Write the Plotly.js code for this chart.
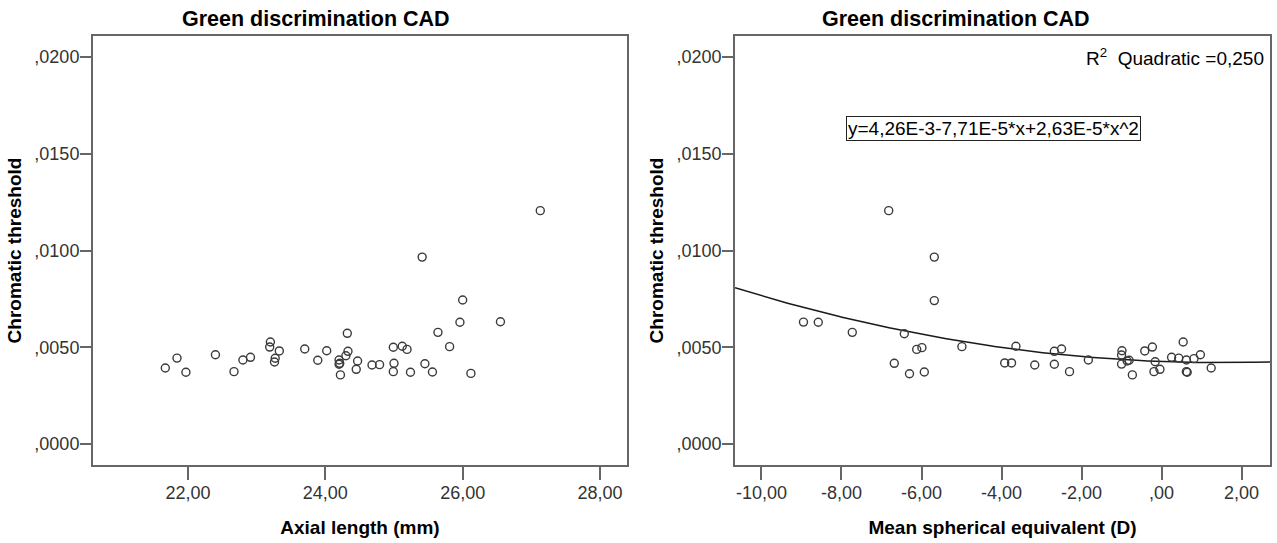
<!DOCTYPE html>
<html>
<head>
<meta charset="utf-8">
<script src="https://cdn.plot.ly/plotly-3.0.1.min.js"></script>
<style>html,body{margin:0;padding:0;background:#fff;}#chart{width:1277px;height:543px;}</style>
</head>
<body>
<div id="chart"></div>
<script>
// Left panel: Axial length (mm) vs chromatic threshold
const axialLength = [21.67,21.84,21.97,22.40,22.67,22.80,22.91,23.20,23.19,23.33,23.27,23.26,23.70,23.89,24.02,24.32,24.33,24.30,24.20,24.21,24.20,24.22,24.47,24.45,24.68,24.79,24.99,25.12,25.19,25.00,24.99,25.24,25.45,25.56,25.64,25.81,25.96,26.12,26.55,26.00,25.41,27.13];
const thresholdAxial = [0.00393,0.00444,0.00371,0.00461,0.00374,0.00434,0.00448,0.00527,0.00501,0.00481,0.00443,0.00424,0.00491,0.00433,0.00482,0.00572,0.00479,0.00456,0.00434,0.00417,0.00412,0.00357,0.00429,0.00386,0.00408,0.00410,0.00500,0.00505,0.00489,0.00417,0.00374,0.00371,0.00415,0.00372,0.00577,0.00503,0.00629,0.00365,0.00632,0.00744,0.00966,0.01206];

// Right panel: Mean spherical equivalent (D) vs chromatic threshold
const sphericalEquivalent = [-6.82,-5.68,-5.68,-8.95,-8.58,-7.73,-6.43,-6.68,-6.30,-6.12,-5.99,-5.93,-4.99,-3.92,-3.75,-3.64,-3.17,-2.68,-2.50,-2.68,-2.30,-1.83,-0.99,-1.00,-1.00,-0.86,-0.81,-0.73,-0.42,-0.23,-0.16,-0.19,-0.04,0.25,0.43,0.54,0.62,0.62,0.64,0.81,0.97,1.24];
const thresholdSpherical = [0.01206,0.00966,0.00741,0.00630,0.00629,0.00577,0.00570,0.00417,0.00363,0.00489,0.00498,0.00372,0.00503,0.00419,0.00419,0.00505,0.00408,0.00479,0.00491,0.00412,0.00374,0.00434,0.00482,0.00460,0.00413,0.00429,0.00433,0.00357,0.00481,0.00501,0.00425,0.00374,0.00386,0.00448,0.00444,0.00527,0.00434,0.00374,0.00371,0.00441,0.00461,0.00393];

// Quadratic fit shown in the chart: y = a + b*x + c*x^2
const fitCoefficients = [4.26e-3, -7.71e-5, 2.63e-5];
const fitLabel = "y=4,26E-3-7,71E-5*x+2,63E-5*x^2";
const r2Label = "R<sup>2</sup>  Quadratic =0,250";

const yTickVals = [0, 0.005, 0.010, 0.015, 0.020];
const yTickText = [",0000", ",0050", ",0100", ",0150", ",0200"];
const xTickValsLeft = [22, 24, 26, 28];
const xTickTextLeft = ["22,00", "24,00", "26,00", "28,00"];
const xTickValsRight = [-10, -8, -6, -4, -2, 0, 2];
const xTickTextRight = ["-10,00", "-8,00", "-6,00", "-4,00", "-2,00", ",00", "2,00"];

const panelTitle = "Green discrimination CAD";
const xTitleLeft = "Axial length (mm)";
const xTitleRight = "Mean spherical equivalent (D)";
const yTitle = "Chromatic threshold";

const xRangeLeft = [20.617, 28.393];
const xRangeRight = [-10.66, 2.71];
const yRange = [-0.001085, 0.021085];

// fit curve sampled across the right axis range
const fitX = [], fitY = [];
for (let i = 0; i <= 200; i++) {
  const x = xRangeRight[0] + (xRangeRight[1] - xRangeRight[0]) * i / 200;
  fitX.push(x);
  fitY.push(fitCoefficients[0] + fitCoefficients[1] * x + fitCoefficients[2] * x * x);
}

const markerStyle = {symbol: 'circle-open', size: 8, color: '#3a3a3a', line: {width: 1.4, color: '#3a3a3a'}};

const traces = [
  {x: axialLength, y: thresholdAxial, type: 'scatter', mode: 'markers', marker: markerStyle, xaxis: 'x', yaxis: 'y', hoverinfo: 'x+y'},
  {x: fitX, y: fitY, type: 'scatter', mode: 'lines', line: {color: '#1a1a1a', width: 1.5}, xaxis: 'x2', yaxis: 'y2', hoverinfo: 'skip'},
  {x: sphericalEquivalent, y: thresholdSpherical, type: 'scatter', mode: 'markers', marker: markerStyle, xaxis: 'x2', yaxis: 'y2', hoverinfo: 'x+y'}
];

const tickFont = {family: '"Liberation Sans", Arial, sans-serif', size: 18, color: '#333'};
const axTitleFont = {family: '"Liberation Sans", Arial, sans-serif', size: 19, color: '#000', weight: 'bold'};
const frame = {showline: true, mirror: true, linecolor: '#666', linewidth: 2, ticks: 'outside', tickcolor: '#666', tickwidth: 2, showgrid: false, zeroline: false, tickfont: tickFont, fixedrange: true};

const layout = {
  width: 1277, height: 543,
  margin: {l: 93, r: 7, t: 36, b: 78, pad: 0},
  paper_bgcolor: '#fff', plot_bgcolor: '#fff',
  showlegend: false,
  font: {family: '"Liberation Sans", Arial, sans-serif', color: '#000'},
  xaxis: Object.assign({}, frame, {domain: [0, 0.4537], range: xRangeLeft, tickvals: xTickValsLeft, ticktext: xTickTextLeft, ticklen: 13, anchor: 'y', ticklabelstandoff: -3,
    title: {text: xTitleLeft, font: axTitleFont, standoff: 19}}),
  yaxis: Object.assign({}, frame, {domain: [0, 1], range: yRange, tickvals: yTickVals, ticktext: yTickText, ticklen: 11, anchor: 'x', ticklabelstandoff: -3,
    title: {text: yTitle, font: axTitleFont, standoff: 8}}),
  xaxis2: Object.assign({}, frame, {domain: [0.5455, 1], range: xRangeRight, tickvals: xTickValsRight, ticktext: xTickTextRight, ticklen: 13, anchor: 'y2', ticklabelstandoff: -3,
    title: {text: xTitleRight, font: axTitleFont, standoff: 19}}),
  yaxis2: Object.assign({}, frame, {domain: [0, 1], range: yRange, tickvals: yTickVals, ticktext: yTickText, ticklen: 11, anchor: 'x2', ticklabelstandoff: -3,
    title: {text: yTitle, font: axTitleFont, standoff: 8}}),
  annotations: [
    {text: '<b>' + panelTitle + '</b>', xref: 'paper', yref: 'paper', x: 0.1895, y: 1.0396, xanchor: 'center', yanchor: 'middle', showarrow: false,
      font: {family: '"Liberation Sans", Arial, sans-serif', size: 21.5, color: '#000'}},
    {text: '<b>' + panelTitle + '</b>', xref: 'paper', yref: 'paper', x: 0.733, y: 1.0396, xanchor: 'center', yanchor: 'middle', showarrow: false,
      font: {family: '"Liberation Sans", Arial, sans-serif', size: 21.5, color: '#000'}},
    {text: r2Label, xref: 'x2 domain', yref: 'y2', x: 0.992, y: 0.0200, xanchor: 'right', yanchor: 'middle', showarrow: false,
      font: {family: '"Liberation Sans", Arial, sans-serif', size: 19, color: '#000'}},
    {text: fitLabel, xref: 'x2', yref: 'y2', x: -4.19, y: 0.01633, xanchor: 'center', yanchor: 'middle', showarrow: false,
      bordercolor: '#222', borderwidth: 1, borderpad: 1, bgcolor: '#fff',
      font: {family: '"Liberation Sans", Arial, sans-serif', size: 19, color: '#000'}}
  ]
};

Plotly.newPlot('chart', traces, layout, {displayModeBar: false, staticPlot: true});
</script>
</body>
</html>
